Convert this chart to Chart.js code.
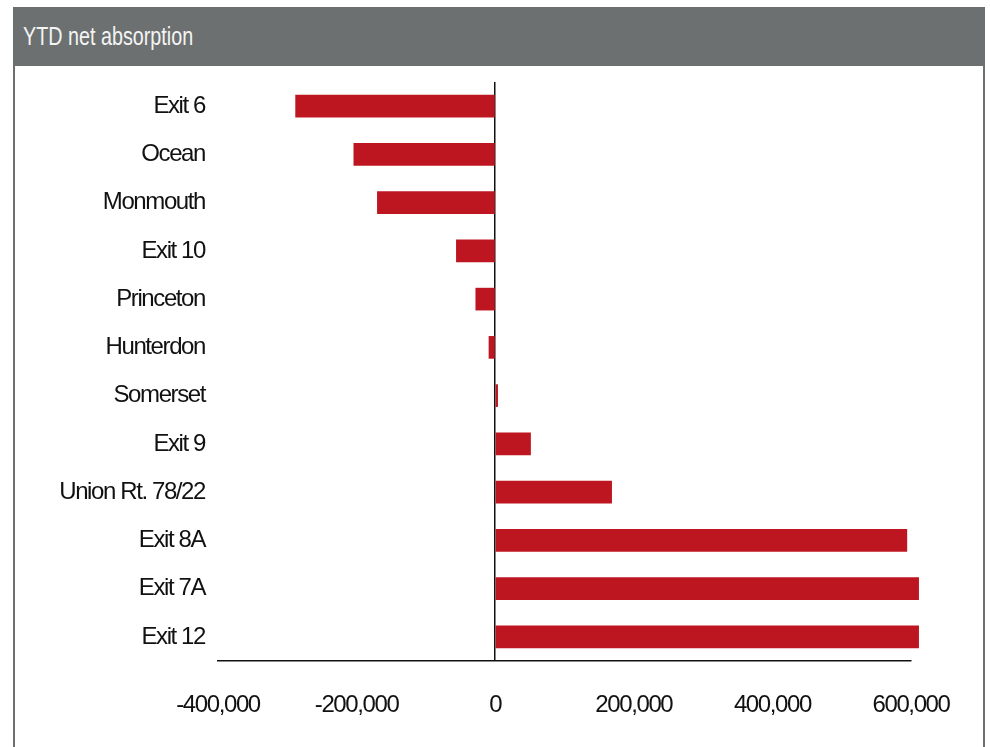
<!DOCTYPE html>
<html>
<head>
<meta charset="utf-8">
<script src="https://cdn.jsdelivr.net/npm/chart.js@4"></script>
<style>
    body { margin: 0; background: #fff; }
    #frame {
        position: absolute; left: 13px; top: 7px; width: 968px; height: 740px;
        border-left: 2px solid #6d7070; border-right: 2px solid #6d7070;
    }
    #header {
        position: absolute; left: -2px; top: 0; width: 972px; height: 59px;
        background: #6d7070; color: #f4f4f4;
        font-family: "Liberation Sans", Arial, sans-serif;
        font-size: 25px; line-height: 58px;
    }
    #header span { display: inline-block; margin-left: 10px; transform: scaleX(0.79); transform-origin: left center; }
    #wrap { position: absolute; left: 0; top: 59px; width: 968px; height: 681px; }
</style>
</head>
<body>
<div id="frame">
    <div id="header"><span>YTD net absorption</span></div>
    <div id="wrap"><canvas id="absorptionChart"></canvas></div>
</div>
<script>
// YTD net absorption by submarket (sq ft)
const submarkets = ['Exit 6', 'Ocean', 'Monmouth', 'Exit 10', 'Princeton', 'Hunterdon',
    'Somerset', 'Exit 9', 'Union Rt. 78/22', 'Exit 8A', 'Exit 7A', 'Exit 12'];
const netAbsorption = [-288000, -204000, -170000, -56000, -28000, -9000,
    3500, 51000, 168000, 594000, 611000, 611000];
const xTicks = [-400000, -200000, 0, 200000, 400000, 600000];

const labelFont = { family: '"Liberation Sans", Arial, sans-serif', size: 24 };

// tighten the label text so it reads like a narrow face
const narrowText = {
    id: 'narrowText',
    beforeLayout: chart => { chart.ctx.letterSpacing = '-1.4px'; },
    beforeDraw: chart => { chart.ctx.letterSpacing = '-1.4px'; }
};

function initChart() {
    const ctx = document.getElementById('absorptionChart').getContext('2d');
    new Chart(ctx, {
        type: 'bar',
        data: {
            labels: submarkets,
            datasets: [{
                data: netAbsorption,
                backgroundColor: '#be1620',
                borderWidth: 0,
                barThickness: 22,
                clip: false
            }]
        },
        options: {
            indexAxis: 'y',
            responsive: true,
            maintainAspectRatio: false,
            animation: false,
            layout: { padding: { top: 16, right: 72, left: 0, bottom: 0 } },
            plugins: { legend: { display: false }, tooltip: { enabled: false } },
            scales: {
                x: {
                    min: -400000,
                    max: 600000,
                    afterBuildTicks: scale => { scale.ticks = xTicks.map(v => ({ value: v })); },
                    afterFit: scale => {
                        scale.height = 86;
                        scale.paddingLeft = 0;
                        scale.paddingRight = 0;
                    },
                    grid: {
                        drawTicks: false,
                        color: c => c.tick && c.tick.value === 0 ? '#111' : 'rgba(0,0,0,0)',
                        lineWidth: 1.5
                    },
                    border: { display: true, color: '#111', width: 1.5 },
                    ticks: {
                        color: '#111',
                        font: labelFont,
                        padding: 30,
                        maxRotation: 0,
                        callback: v => v.toLocaleString('en-US')
                    }
                },
                y: {
                    afterFit: scale => {
                        scale.width = 203;
                        scale.paddingTop = 0;
                        scale.paddingBottom = 0;
                    },
                    grid: { display: false, drawTicks: false },
                    border: { display: false },
                    ticks: { color: '#111', font: labelFont, padding: 13 }
                }
            }
        },
        plugins: [narrowText]
    });
}

document.addEventListener('DOMContentLoaded', initChart);
</script>
</body>
</html>
